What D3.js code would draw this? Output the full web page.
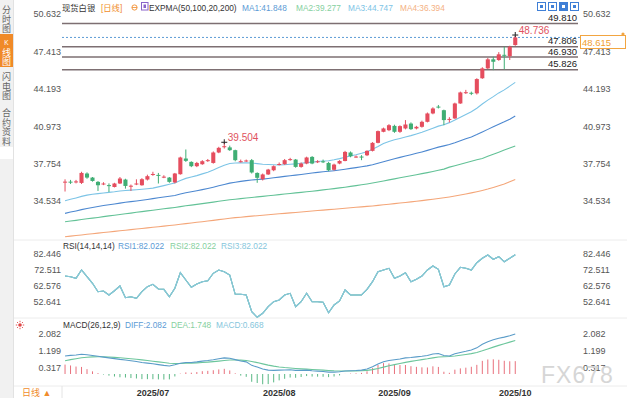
<!DOCTYPE html>
<html lang="zh">
<head>
    <meta charset="UTF-8">
    <title>现货白银 日线</title>
    <script src="https://cdnjs.cloudflare.com/ajax/libs/d3/7.8.5/d3.min.js"></script>
    <style>
        body { margin: 0; background: #fff; }
        text { font-family: "Liberation Sans", Arial, "Noto Sans CJK SC", sans-serif; }
    </style>
</head>
<body>
<div id="chart_holder"></div>
<script>
    var width = 627;
    var height = 398;

    // daily candles, 2025/06/09 .. 2025/10/01
    var openP = [36.12,36.20,36.15,36.09,36.90,36.55,36.18,36.00,35.90,35.74,36.04,36.38,35.80,36.00,35.89,36.38,36.82,36.78,36.60,36.55,
        36.13,36.84,38.19,37.90,37.53,37.70,38.00,37.81,38.71,39.20,39.15,38.91,37.93,37.98,38.05,36.95,36.41,36.82,37.18,37.68,
        37.70,38.10,38.10,37.47,37.76,38.33,37.90,37.95,37.81,37.22,37.76,37.98,38.71,38.33,38.36,38.47,38.85,39.54,40.49,40.63,
        41.00,40.49,40.78,41.20,40.78,40.92,41.35,42.07,42.66,42.35,41.55,41.64,42.93,43.85,43.85,43.80,45.10,45.95,46.73,46.67,
        47.12,47.00,47.96];
    var highP = [36.40,36.35,36.35,37.05,37.00,36.60,36.25,36.15,36.05,36.10,36.60,36.45,35.95,36.40,36.50,36.80,37.05,36.95,36.75,36.60,
        36.95,38.35,38.97,37.95,37.90,38.05,38.15,38.80,39.20,39.504,39.30,38.95,38.10,38.10,38.15,37.00,36.90,37.30,37.60,37.85,
        38.15,38.25,38.15,37.85,38.35,38.40,38.05,38.10,37.90,37.75,38.05,38.85,38.80,38.45,38.48,38.90,39.60,40.60,40.85,41.15,
        41.10,41.05,41.50,41.30,41.00,41.45,42.15,42.60,42.80,42.40,41.75,43.00,43.95,44.10,43.95,45.10,46.05,46.85,46.95,47.35,
        47.81,47.90,48.736];
    var lowP = [35.35,36.00,36.05,36.00,36.45,36.20,35.40,35.90,35.31,35.70,36.00,35.60,35.40,35.90,35.85,36.30,36.70,36.04,36.50,36.10,
        36.05,36.80,37.90,37.45,37.45,37.65,37.90,37.75,38.65,39.05,38.85,37.95,37.85,37.90,36.90,36.10,36.30,36.78,37.10,37.60,
        37.65,38.00,37.40,37.40,37.70,37.70,37.80,37.80,37.10,37.15,37.70,37.95,38.30,38.25,38.05,38.40,38.80,39.50,40.45,40.55,
        40.40,40.40,40.70,40.65,40.70,40.85,41.30,42.00,42.50,41.06,41.30,41.60,42.90,43.75,43.65,43.70,45.05,45.90,45.80,46.60,
        45.87,46.67,47.90];
    var closeP = [36.20,36.15,36.22,36.95,36.55,36.26,35.89,36.04,35.88,36.04,36.47,35.83,35.85,36.04,36.41,36.67,36.86,36.73,36.63,36.18,
        36.90,38.28,37.99,37.53,37.81,37.96,38.05,38.71,39.11,39.25,38.91,38.05,37.96,38.02,36.99,36.53,36.82,37.24,37.53,37.72,
        38.05,38.14,37.47,37.76,38.28,37.76,37.95,37.90,37.18,37.67,37.98,38.76,38.39,38.36,38.33,38.85,39.54,40.55,40.78,41.06,
        40.49,40.98,41.12,40.72,40.92,41.35,42.07,42.50,42.60,41.50,41.60,42.93,43.88,43.90,43.80,45.03,45.95,46.73,46.52,47.16,
        47.07,47.81,48.615];

    // EXPMA(50,100,20,200)
    var ma1 = [33.47,33.58,33.68,33.79,33.89,33.98,34.06,34.14,34.21,34.28,34.35,34.42,34.48,34.54,34.60,34.67,34.74,34.81,34.88,34.94,
        35.01,35.13,35.24,35.33,35.42,35.51,35.61,35.72,35.84,35.96,36.07,36.15,36.22,36.29,36.34,36.38,36.42,36.47,36.53,36.59,
        36.65,36.71,36.76,36.82,36.88,36.94,37.00,37.05,37.09,37.14,37.20,37.27,37.34,37.41,37.48,37.56,37.66,37.79,37.92,38.05,
        38.17,38.29,38.41,38.52,38.64,38.76,38.89,39.03,39.17,39.28,39.40,39.55,39.72,39.89,40.05,40.25,40.47,40.70,40.92,41.14,
        41.35,41.58,41.848];
    var ma2 = [32.75,32.81,32.87,32.94,33.00,33.06,33.12,33.19,33.25,33.31,33.37,33.43,33.49,33.56,33.62,33.68,33.74,33.80,33.86,33.92,
        33.98,34.05,34.12,34.18,34.24,34.31,34.37,34.44,34.51,34.58,34.64,34.69,34.74,34.79,34.84,34.89,34.93,34.98,35.03,35.08,
        35.13,35.18,35.23,35.28,35.33,35.38,35.43,35.49,35.54,35.60,35.66,35.72,35.79,35.86,35.93,36.00,36.08,36.17,36.26,36.35,
        36.44,36.53,36.62,36.71,36.80,36.89,36.98,37.08,37.18,37.28,37.45,37.57,37.70,37.83,37.96,38.08,38.20,38.38,38.56,38.74,
        38.92,39.10,39.277];
    var ma3 = [34.56,34.68,34.80,34.93,35.04,35.11,35.17,35.22,35.28,35.33,35.40,35.44,35.47,35.50,35.54,35.59,35.64,35.75,35.86,35.98,
        36.09,36.30,36.48,36.60,36.72,36.87,37.00,37.20,37.42,37.62,37.76,37.80,37.82,37.83,37.80,37.75,37.70,37.67,37.65,37.63,
        37.66,37.70,37.73,37.78,37.84,37.88,37.93,37.98,38.00,38.08,38.18,38.30,38.42,38.52,38.64,38.78,38.98,39.22,39.48,39.66,
        39.80,39.92,40.04,40.16,40.30,40.45,40.62,40.80,40.98,41.10,41.28,41.50,41.75,41.98,42.22,42.52,42.88,43.22,43.52,43.84,
        44.10,44.42,44.747];
    var ma4 = [31.46,31.51,31.56,31.61,31.67,31.72,31.77,31.82,31.87,31.92,31.97,32.02,32.07,32.12,32.17,32.22,32.27,32.32,32.37,32.42,
        32.47,32.53,32.59,32.64,32.70,32.75,32.81,32.87,32.93,32.99,33.05,33.10,33.14,33.19,33.23,33.27,33.31,33.35,33.39,33.43,
        33.47,33.51,33.55,33.59,33.63,33.67,33.71,33.75,33.79,33.83,33.87,33.91,33.95,33.99,34.03,34.07,34.11,34.16,34.21,34.26,
        34.31,34.36,34.41,34.46,34.51,34.57,34.63,34.69,34.75,34.81,34.88,34.96,35.05,35.14,35.23,35.33,35.44,35.56,35.70,35.85,
        36.00,36.20,36.394];

    // RSI(14,14,14) - the three lines coincide
    var rsi = [68.70,68.26,67.26,72.45,68.26,64.14,58.89,59.33,56.83,59.51,62.45,55.14,55.76,54.77,58.89,62.01,63.51,60.58,60.39,55.76,
        61.01,70.76,66.20,61.64,63.70,65.14,65.76,70.39,72.45,71.39,69.32,57.27,57.27,56.83,46.39,42.89,45.39,49.52,52.64,53.70,
        56.83,57.89,49.52,52.64,57.89,52.64,52.64,52.27,45.77,50.58,53.08,59.95,56.83,56.83,56.83,60.39,65.14,71.39,72.45,73.51,
        67.26,68.70,70.76,65.14,66.64,68.70,72.45,74.95,72.89,62.01,63.08,69.95,74.14,73.51,72.45,77.01,79.76,81.82,79.13,80.76,
        77.63,79.76,82.022];

    // MACD(26,12,9)
    var diff = [0.937,0.970,0.990,1.026,1.000,0.960,0.920,0.880,0.840,0.800,0.760,0.730,0.690,0.650,0.600,0.565,0.530,0.490,0.450,0.420,
        0.480,0.557,0.600,0.600,0.630,0.670,0.700,0.740,0.790,0.840,0.820,0.750,0.680,0.630,0.450,0.360,0.260,0.200,0.190,0.200,
        0.210,0.220,0.190,0.190,0.200,0.170,0.150,0.130,0.100,0.100,0.120,0.160,0.170,0.180,0.200,0.260,0.380,0.520,0.640,0.700,
        0.740,0.780,0.840,0.860,0.890,0.920,0.960,1.040,1.070,0.960,0.940,1.050,1.120,1.180,1.250,1.360,1.550,1.680,1.780,1.860,
        1.920,1.990,2.082];
    var dea = [0.692,0.748,0.796,0.842,0.874,0.891,0.897,0.894,0.883,0.866,0.845,0.822,0.796,0.767,0.734,0.700,0.666,0.631,0.595,0.560,
        0.544,0.547,0.558,0.566,0.579,0.597,0.618,0.642,0.671,0.705,0.728,0.732,0.722,0.704,0.653,0.594,0.527,0.462,0.408,0.366,
        0.335,0.312,0.288,0.268,0.254,0.237,0.220,0.202,0.182,0.166,0.157,0.158,0.160,0.164,0.171,0.189,0.227,0.286,0.357,0.426,
        0.489,0.547,0.606,0.657,0.704,0.747,0.790,0.840,0.886,0.901,0.909,0.937,0.974,1.015,1.062,1.122,1.208,1.302,1.398,1.490,
        1.576,1.659,1.748];
    var macdHist = [0.490,0.444,0.388,0.368,0.252,0.138,0.046,-0.028,-0.086,-0.132,-0.170,-0.184,-0.212,-0.234,-0.268,-0.270,-0.272,-0.282,-0.290,-0.280,
        -0.128,0.020,0.084,0.068,0.102,0.146,0.164,0.196,0.238,0.270,0.184,0.036,-0.084,-0.148,-0.406,-0.468,-0.534,-0.524,-0.436,-0.332,
        -0.250,-0.184,-0.196,-0.156,-0.108,-0.134,-0.140,-0.144,-0.164,-0.132,-0.074,0.004,0.020,0.032,0.058,0.142,0.306,0.468,0.566,0.548,
        0.502,0.466,0.468,0.406,0.372,0.346,0.340,0.400,0.368,0.118,0.062,0.226,0.292,0.330,0.376,0.476,0.684,0.756,0.764,0.740,
        0.688,0.662,0.668];

    var priceTicks = [50.632, 47.413, 44.193, 40.973, 37.754, 34.534];
    var rsiTicks = [82.446, 72.511, 62.576, 52.641];
    var macdTicks = [2.082, 1.199, 0.317];
    var dateTickIdx = [16, 39, 60, 82];
    var dateTickLabels = ["2025/07", "2025/08", "2025/09", "2025/10"];
    var levels = [49.810, 47.806, 46.930, 45.826];
    var lastPrice = 48.615;
    var markedHighs = [29, 82];

    var upColor = "#e54d5e", downColor = "#3fae74";
    var fmt = d3.format(".3f");

    var svg = d3.select("#chart_holder")
        .append("svg")
        .attr("width", width)
        .attr("height", height);
    svg.append("rect").attr("width", width).attr("height", height).attr("fill", "#ffffff");

    var idx = openP.map(function (d, i) { return i; });
    var x = d3.scaleBand().domain(idx).range([62.3, 518]).paddingInner(0.26).paddingOuter(0.13);
    var cx = function (i) { return x(i) + x.bandwidth() / 2; };

    var y = d3.scaleLinear().domain([34.534, 50.632]).range([201, 14]);
    var yRsi = d3.scaleLinear().domain([52.641, 82.446]).range([301.7, 254]);
    var yMacd = d3.scaleLinear().domain([0, 2.082]).range([374, 334]);

    // panel separators
    [240, 318, 386].forEach(function (yy) {
        svg.append("line").attr("x1", 13).attr("x2", width).attr("y1", yy).attr("y2", yy)
            .attr("stroke", "#ececec").attr("stroke-width", 1);
    });

    // axes labels (left and right)
    function sideAxes(scale, ticks) {
        var l = svg.append("g").attr("transform", "translate(62,0)")
            .call(d3.axisLeft(scale).tickValues(ticks).tickSize(0).tickPadding(1).tickFormat(fmt));
        var r = svg.append("g").attr("transform", "translate(582,0)")
            .call(d3.axisRight(scale).tickValues(ticks).tickSize(0).tickPadding(1).tickFormat(fmt));
        [l, r].forEach(function (g) {
            g.select(".domain").remove();
            g.selectAll("text").attr("font-size", 9).attr("fill", "#555")
                .style("font-family", '"Liberation Sans", Arial, sans-serif');
        });
    }
    sideAxes(y, priceTicks);
    sideAxes(yRsi, rsiTicks);
    sideAxes(yMacd, macdTicks);

    // horizontal price levels
    levels.forEach(function (v) {
        svg.append("line").attr("x1", 62).attr("x2", 578).attr("y1", y(v)).attr("y2", y(v))
            .attr("stroke", "#7d6f72").attr("stroke-width", 1.5);
        svg.append("text").attr("x", 577).attr("y", y(v) - 2.5).attr("text-anchor", "end")
            .attr("font-size", 9.5).attr("fill", "#222").text(fmt(v));
    });
    svg.append("line").attr("x1", 62).attr("x2", 580).attr("y1", y(lastPrice)).attr("y2", y(lastPrice))
        .attr("stroke", "#5b9bd5").attr("stroke-width", 1).attr("stroke-dasharray", "2,2");

    // EXPMA lines
    var maLine = function (arr) {
        return d3.line().x(function (d, i) { return cx(i); }).y(function (d) { return y(d); })(arr);
    };
    [[ma4, "#f4a679"], [ma2, "#63c297"], [ma1, "#4d88d0"], [ma3, "#7cc4e6"]].forEach(function (m) {
        svg.append("path").attr("d", maLine(m[0])).attr("fill", "none")
            .attr("stroke", m[1]).attr("stroke-width", 1.1);
    });

    // candles
    var candles = svg.append("g").selectAll("g").data(idx).enter().append("g");
    candles.append("line")
        .attr("x1", cx).attr("x2", cx)
        .attr("y1", function (i) { return y(highP[i]); })
        .attr("y2", function (i) { return y(lowP[i]); })
        .attr("stroke", function (i) { return closeP[i] >= openP[i] ? upColor : downColor; })
        .attr("stroke-width", 1);
    candles.append("rect")
        .attr("x", function (i) { return x(i); })
        .attr("width", x.bandwidth())
        .attr("y", function (i) { return y(Math.max(openP[i], closeP[i])); })
        .attr("height", function (i) { return Math.max(1, Math.abs(y(openP[i]) - y(closeP[i]))); })
        .attr("fill", function (i) { return closeP[i] >= openP[i] ? upColor : downColor; });

    // high markers
    markedHighs.forEach(function (i) {
        var hx = cx(i), hy = y(highP[i]) - 1;
        svg.append("line").attr("x1", hx - 3).attr("x2", hx + 3).attr("y1", hy).attr("y2", hy).attr("stroke", "#222");
        svg.append("line").attr("x1", hx).attr("x2", hx).attr("y1", hy - 3).attr("y2", hy + 2).attr("stroke", "#222");
        svg.append("text").attr("x", hx + 3.5).attr("y", hy - 1.5).attr("font-size", 10)
            .attr("fill", "#e0525e").text(fmt(highP[i]));
    });

    // last price tag
    svg.append("rect").attr("x", 580.5).attr("y", 35.5).attr("width", 45).attr("height", 13)
        .attr("fill", "#fff").attr("stroke", "#f2a541").attr("stroke-width", 1);
    svg.append("text").attr("x", 582).attr("y", 45.5).attr("font-size", 9.5).attr("fill", "#f0a030").text(fmt(lastPrice));
    svg.append("circle").attr("cx", 623).attr("cy", 34).attr("r", 1.6).attr("fill", "#f2a541");

    // RSI lines
    var rsiLine = d3.line().x(function (d, i) { return cx(i); }).y(function (d) { return yRsi(d); });
    ["#5b9bd5", "#86d0a0", "#86c6dc"].forEach(function (c) {
        svg.append("path").attr("d", rsiLine(rsi)).attr("fill", "none").attr("stroke", c).attr("stroke-width", 1.1);
    });

    // MACD histogram + lines
    svg.append("g").selectAll("line").data(idx).enter().append("line")
        .attr("x1", cx).attr("x2", cx)
        .attr("y1", yMacd(0))
        .attr("y2", function (i) { return yMacd(macdHist[i]); })
        .attr("stroke", function (i) { return macdHist[i] >= 0 ? "#e8707c" : "#59b884"; })
        .attr("stroke-width", 1);
    var macdLine = d3.line().x(function (d, i) { return cx(i); }).y(function (d) { return yMacd(d); });
    svg.append("path").attr("d", macdLine(dea)).attr("fill", "none").attr("stroke", "#6cc69c").attr("stroke-width", 1.1);
    svg.append("path").attr("d", macdLine(diff)).attr("fill", "none").attr("stroke", "#5a9cc8").attr("stroke-width", 1.1);

    // date axis
    var xa = svg.append("g").attr("transform", "translate(0,386)")
        .call(d3.axisBottom(x).tickValues(dateTickIdx).tickSize(0).tickPadding(3.5)
            .tickFormat(function (d) { return dateTickLabels[dateTickIdx.indexOf(d)]; }));
    xa.select(".domain").remove();
    xa.selectAll("text").attr("font-size", 9).attr("font-weight", "bold").attr("fill", "#333")
        .style("font-family", '"Liberation Sans", Arial, sans-serif');
    svg.append("line").attr("x1", 62).attr("x2", 62).attr("y1", 386).attr("y2", 398).attr("stroke", "#e4e4e4");

    // legends
    function legend(items, baseY) {
        items.forEach(function (it) {
            svg.append("text").attr("x", it[1]).attr("y", baseY).attr("font-size", 8.3)
                .attr("fill", it[2]).text(it[0]);
        });
    }
    legend([["现货白银", 62, "#333"], ["[日线]", 101, "#f08c2c"], ["EXPMA(50,100,20,200)", 149, "#333"],
        ["MA1:41.848", 242, "#5b9bd5"], ["MA2:39.277", 296, "#86d0a0"], ["MA3:44.747", 348, "#7cc4e6"],
        ["MA4:36.394", 400, "#f4b183"]], 11);
    legend([["RSI(14,14,14)", 63, "#333"], ["RSI1:82.022", 118, "#5b9bd5"], ["RSI2:82.022", 170, "#86d0a0"],
        ["RSI3:82.022", 221, "#86c6dc"]], 249);
    legend([["MACD(26,12,9)", 63, "#333"], ["DIFF:2.082", 125, "#5b9bd5"], ["DEA:1.748", 171, "#86d0a0"],
        ["MACD:0.668", 216, "#86c6dc"]], 328);

    // small title icons
    svg.append("circle").attr("cx", 134.5).attr("cy", 7.5).attr("r", 2.6).attr("fill", "none").attr("stroke", "#f08c2c").attr("stroke-width", 0.9);
    svg.append("line").attr("x1", 132).attr("x2", 137).attr("y1", 7.5).attr("y2", 7.5).attr("stroke", "#f08c2c").attr("stroke-width", 0.8);
    svg.append("rect").attr("x", 141.5).attr("y", 2.5).attr("width", 6.5).attr("height", 7.5)
        .attr("fill", "#fff").attr("stroke", "#8a63c9").attr("stroke-width", 1);
    svg.append("rect").attr("x", 143.5).attr("y", 4.5).attr("width", 2.5).attr("height", 3.5).attr("fill", "#8a63c9");

    // toolbar icons top right
    [537, 548, 559, 570].forEach(function (ix, k) {
        svg.append("rect").attr("x", ix + 0.5).attr("y", 2.5).attr("width", 8).attr("height", 8)
            .attr("fill", k === 2 ? "#3f7fd6" : "#fff").attr("stroke", "#3f7fd6").attr("stroke-width", 1);
        svg.append("rect").attr("x", ix + 3).attr("y", 5).attr("width", 3).attr("height", 3)
            .attr("fill", k === 2 ? "#fff" : "#3f7fd6");
    });

    // sun icon of the MACD panel
    var sun = svg.append("g").attr("transform", "translate(20,325)");
    sun.append("circle").attr("r", 1.8).attr("fill", "#e04848");
    d3.range(8).forEach(function (k) {
        var a = k * Math.PI / 4;
        sun.append("line").attr("x1", Math.cos(a) * 2.8).attr("y1", Math.sin(a) * 2.8)
            .attr("x2", Math.cos(a) * 4.2).attr("y2", Math.sin(a) * 4.2)
            .attr("stroke", "#e04848").attr("stroke-width", 0.9);
    });

    // left sidebar
    svg.append("rect").attr("x", 0).attr("y", 0).attr("width", 13).attr("height", height).attr("fill", "#f1f1f1");
    svg.append("line").attr("x1", 13.5).attr("x2", 13.5).attr("y1", 0).attr("y2", height).attr("stroke", "#e2e2e2");
    svg.append("rect").attr("x", 0).attr("y", 34).attr("width", 13).attr("height", 33).attr("fill", "#f08a28");
    svg.append("rect").attr("x", 0).attr("y", 147).attr("width", 13).attr("height", 12).attr("fill", "#fff");
    var tabs = [["分", 10, "#666"], ["时", 19.5, "#666"], ["图", 29, "#666"],
        ["K", 42, "#fff"], ["线", 52.5, "#fff"], ["图", 62, "#fff"],
        ["闪", 77, "#666"], ["电", 86.5, "#666"], ["图", 96, "#666"],
        ["合", 113, "#666"], ["约", 122.5, "#666"], ["资", 132, "#666"], ["料", 141.5, "#666"]];
    tabs.forEach(function (t) {
        svg.append("text").attr("x", 6.5).attr("y", t[1] + 3.2).attr("text-anchor", "middle")
            .attr("font-size", t[0] === "K" ? 6.5 : 9).attr("fill", t[2]).text(t[0]);
    });

    // bottom-left period selector
    svg.append("text").attr("x", 22).attr("y", 396).attr("font-size", 9).attr("fill", "#f08c2c").text("日线 ▲");

    // watermark
    svg.append("text").attr("x", 541).attr("y", 383).attr("font-size", 23).attr("fill", "#d6d6d6")
        .attr("letter-spacing", 1).text("FX678");
</script>
</body>
</html>
